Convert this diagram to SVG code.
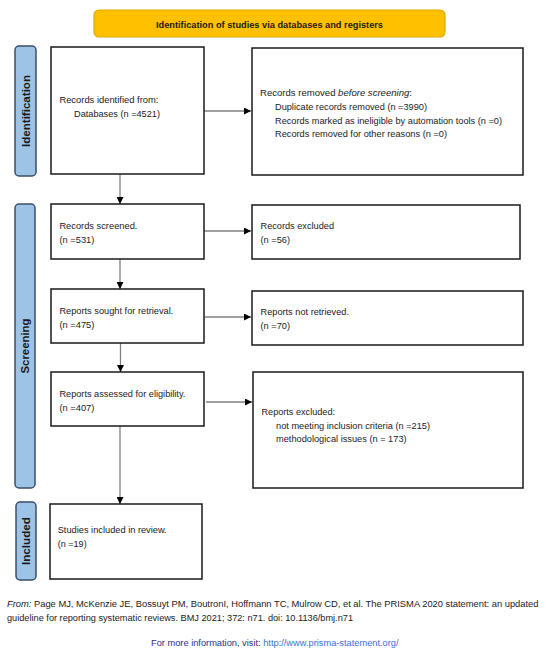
<svg xmlns="http://www.w3.org/2000/svg" width="550" height="665" viewBox="0 0 550 665">
<style>
  .box { fill: #ffffff; stroke: #1a1a1a; stroke-width: 1.5; }
  .side { fill: #9dc3e6; stroke: #3b4f66; stroke-width: 1.5; }
  .hdr { fill: #ffc000; stroke: #e0a800; stroke-width: 1.2; }
  .t { font-family: "Liberation Sans", Arial, sans-serif; font-size: 9.4px; fill: #1a1a1a; }
  .tf { font-family: "Liberation Sans", Arial, sans-serif; font-size: 9.2px; fill: #1a1a1a; }
  .tb { font-family: "Liberation Sans", Arial, sans-serif; font-size: 9.4px; font-weight: bold; fill: #1a1a1a; }
  .vt { font-family: "Liberation Sans", Arial, sans-serif; font-size: 11px; font-weight: bold; fill: #1a1a1a; text-anchor: middle; }
  .conn { stroke: #808080; stroke-width: 1.3; fill: none; }
  .navy { fill: #2b2f86; }
  .link { fill: #3a6fd0; }
</style>
<defs>
  <marker id="ah" viewBox="0 0 10 10" refX="10" refY="5" markerWidth="7" markerHeight="7" markerUnits="userSpaceOnUse" orient="auto">
    <path d="M0,0 L10,5 L0,10 z" fill="#000000"/>
  </marker>
</defs>

<g id="header">
  <rect class="hdr" x="94" y="10" width="351" height="27" rx="5"/>
  <text class="tb" x="156" y="28" textLength="227" lengthAdjust="spacingAndGlyphs">Identification of studies via databases and registers</text>
</g>

<g id="label-identification">
  <rect class="side" x="15" y="46" width="21" height="130" rx="4"/>
  <text class="vt" transform="translate(29.5,111) rotate(-90)" textLength="72" lengthAdjust="spacingAndGlyphs">Identification</text>
</g>
<g id="label-screening">
  <rect class="side" x="15" y="204" width="20" height="284" rx="4"/>
  <text class="vt" transform="translate(29,346) rotate(-90)" textLength="55" lengthAdjust="spacingAndGlyphs">Screening</text>
</g>
<g id="label-included">
  <rect class="side" x="16" y="502" width="20" height="78" rx="4"/>
  <text class="vt" transform="translate(30,541) rotate(-90)" textLength="48" lengthAdjust="spacingAndGlyphs">Included</text>
</g>

<g id="connectors">
  <line class="conn" x1="204" y1="111" x2="251" y2="111" marker-end="url(#ah)"/>
  <line class="conn" x1="120" y1="174" x2="120" y2="204" marker-end="url(#ah)"/>
  <line class="conn" x1="204" y1="231" x2="251" y2="231" marker-end="url(#ah)"/>
  <line class="conn" x1="120" y1="259" x2="120" y2="289" marker-end="url(#ah)"/>
  <line class="conn" x1="205" y1="317" x2="251" y2="317" marker-end="url(#ah)"/>
  <line class="conn" x1="120.5" y1="343" x2="120.5" y2="372" marker-end="url(#ah)"/>
  <line class="conn" x1="206" y1="402" x2="252" y2="402" marker-end="url(#ah)"/>
  <line class="conn" x1="120" y1="426" x2="120" y2="504" marker-end="url(#ah)"/>
</g>

<g id="records-identified">
  <rect class="box" x="51" y="47" width="153" height="127"/>
  <text class="t" x="59.4" y="103" textLength="99" lengthAdjust="spacingAndGlyphs">Records identified from:</text>
  <text class="t" x="74" y="117" textLength="86" lengthAdjust="spacingAndGlyphs">Databases (n =4521)</text>
</g>

<g id="records-removed">
  <rect class="box" x="252" y="48" width="271" height="127"/>
  <text class="t" x="260" y="96" textLength="152" lengthAdjust="spacingAndGlyphs">Records removed <tspan font-style="italic">before screening</tspan>:</text>
  <text class="t" x="275" y="110" textLength="152" lengthAdjust="spacingAndGlyphs">Duplicate records removed (n =3990)</text>
  <text class="t" x="275" y="123.5" textLength="227" lengthAdjust="spacingAndGlyphs">Records marked as ineligible by automation tools (n =0)</text>
  <text class="t" x="275" y="137" textLength="172" lengthAdjust="spacingAndGlyphs">Records removed for other reasons (n =0)</text>
</g>

<g id="records-screened">
  <rect class="box" x="51" y="204" width="153" height="55"/>
  <text class="t" x="59.4" y="229" textLength="78" lengthAdjust="spacingAndGlyphs">Records screened.</text>
  <text class="t" x="59.4" y="243" textLength="35" lengthAdjust="spacingAndGlyphs">(n =531)</text>
</g>

<g id="records-excluded">
  <rect class="box" x="252" y="205" width="268" height="54"/>
  <text class="t" x="260.5" y="229" textLength="73.5" lengthAdjust="spacingAndGlyphs">Records excluded</text>
  <text class="t" x="260.5" y="243" textLength="29.5" lengthAdjust="spacingAndGlyphs">(n =56)</text>
</g>

<g id="reports-sought">
  <rect class="box" x="51" y="289" width="153" height="54"/>
  <text class="t" x="59.4" y="313.5" textLength="114" lengthAdjust="spacingAndGlyphs">Reports sought for retrieval.</text>
  <text class="t" x="59.4" y="327.5" textLength="35" lengthAdjust="spacingAndGlyphs">(n =475)</text>
</g>

<g id="reports-not-retrieved">
  <rect class="box" x="252" y="291" width="271" height="54"/>
  <text class="t" x="260.5" y="315" textLength="88.5" lengthAdjust="spacingAndGlyphs">Reports not retrieved.</text>
  <text class="t" x="260.5" y="329" textLength="29.5" lengthAdjust="spacingAndGlyphs">(n =70)</text>
</g>

<g id="reports-assessed">
  <rect class="box" x="51" y="372" width="153" height="54"/>
  <text class="t" x="59.4" y="397" textLength="126" lengthAdjust="spacingAndGlyphs">Reports assessed for eligibility.</text>
  <text class="t" x="59.4" y="411" textLength="35" lengthAdjust="spacingAndGlyphs">(n =407)</text>
</g>

<g id="reports-excluded">
  <rect class="box" x="253" y="372" width="270" height="116"/>
  <text class="t" x="261.5" y="415" textLength="73.5" lengthAdjust="spacingAndGlyphs">Reports excluded:</text>
  <text class="t" x="276" y="428.5" textLength="154" lengthAdjust="spacingAndGlyphs">not meeting inclusion criteria (n =215)</text>
  <text class="t" x="276" y="442" textLength="130.6" lengthAdjust="spacingAndGlyphs">methodological issues (n = 173)</text>
</g>

<g id="studies-included">
  <rect class="box" x="50" y="504" width="152" height="75"/>
  <text class="t" x="57.7" y="532.5" textLength="109" lengthAdjust="spacingAndGlyphs">Studies included in review.</text>
  <text class="t" x="57.7" y="547" textLength="29" lengthAdjust="spacingAndGlyphs">(n =19)</text>
</g>

<g id="footer">
  <text class="tf" x="7" y="607" textLength="531.5" lengthAdjust="spacingAndGlyphs"><tspan font-style="italic">From:</tspan>  Page MJ, McKenzie JE, Bossuyt PM, BoutronI, Hoffmann TC, Mulrow CD, et al. The PRISMA 2020 statement: an updated</text>
  <text class="tf" x="7" y="620.5" textLength="346" lengthAdjust="spacingAndGlyphs">guideline for reporting systematic reviews. BMJ 2021; 372: n71. doi: 10.1136/bmj.n71</text>
  <text class="tf" x="151" y="645.5" textLength="247.6" lengthAdjust="spacingAndGlyphs"><tspan class="navy">For more information, visit: </tspan><tspan class="link">http://www.prisma-statement.org/</tspan></text>
</g>
</svg>
